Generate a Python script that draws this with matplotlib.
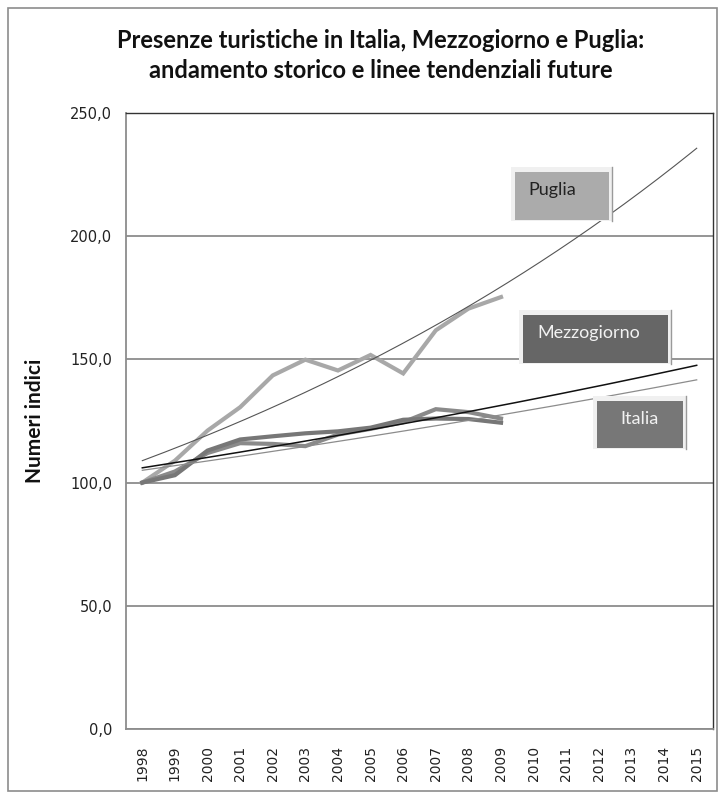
import numpy as np
import matplotlib
matplotlib.use("Agg")
import matplotlib.pyplot as plt
from matplotlib.patches import Rectangle

# ---- data ----
years = [str(y) for y in range(1998, 2016)]
hist_years = list(range(1998, 2010))

puglia = [100.0, 108.9, 121.1, 130.6, 143.5, 149.9, 145.5, 151.8, 144.3, 161.8, 170.6, 175.3]
italia = [100.0, 104.5, 112.0, 116.0, 115.7, 114.8, 119.5, 121.8, 124.5, 129.8, 128.6, 126.0]
mezzogiorno = [100.0, 103.0, 113.0, 117.5, 118.8, 120.0, 120.8, 122.3, 125.5, 126.0, 125.8, 124.3]

# exponential trend lines: value at 1998 and at 2015
trend_names = ["Puglia", "Mezzogiorno", "Italia"]
trend_1998 = [108.9, 106.0, 105.0]
trend_2015 = [235.7, 147.6, 141.7]

y_ticks = [0, 50, 100, 150, 200, 250]

W, H = 722, 797
fig = plt.figure(figsize=(W / 100, H / 100), dpi=100)
fig.patch.set_facecolor("white")


def fx(px):
    return px / W


def fy(py):
    return 1 - py / H


# outer chart frame
fig.add_artist(Rectangle((fx(8), fy(791)), fx(709), (783) / H, transform=fig.transFigure,
                         fill=False, edgecolor="#8c8c8c", linewidth=1.2))

ax = fig.add_axes([fx(126), fy(729), fx(713 - 126), (729 - 113) / H])
ax.set_xlim(-0.5, len(years) - 0.5)
ax.set_ylim(0, 250)

# gridlines
ax.set_yticks(y_ticks)
ax.set_yticklabels([f"{v:.1f}".replace(".", ",") for v in y_ticks],
                   fontsize=10.5, color="#222222", family="DejaVu Sans")
ax.yaxis.grid(True, color="#8c8c8c", linewidth=1.3)
ax.set_axisbelow(True)
ax.tick_params(axis="y", length=0, pad=10)

ax.set_xticks(range(len(years)))
ax.set_xticklabels(years, rotation=90, fontsize=10, color="#222222", family="DejaVu Sans")
ax.tick_params(axis="x", length=0, pad=12)

for side in ("left", "bottom"):
    ax.spines[side].set_color("#8c8c8c")
    ax.spines[side].set_linewidth(1.3)
for side in ("top", "right"):
    ax.spines[side].set_color("#333333")
    ax.spines[side].set_linewidth(1.0)

xh = [y - 1998 for y in hist_years]
ax.plot(xh, puglia, color="#a8a8a8", linewidth=3.0, solid_joinstyle="miter", zorder=3)
ax.plot(xh, italia, color="#8a8a8a", linewidth=3.0, solid_joinstyle="miter", zorder=3)
ax.plot(xh, mezzogiorno, color="#777777", linewidth=3.0, solid_joinstyle="miter", zorder=3)

# trend lines, drawn over the series
trend_style = {"Puglia": ("#555555", 0.8), "Mezzogiorno": ("#111111", 1.1), "Italia": ("#8c8c8c", 0.9)}
t = np.linspace(0, len(years) - 1, 200)
for name, a, b in zip(trend_names, trend_1998, trend_2015):
    col, lw = trend_style[name]
    ax.plot(t, a * (b / a) ** (t / (len(years) - 1)), color=col, linewidth=lw, zorder=4)

ax.set_ylabel("Numeri indici", fontsize=15, fontweight="bold", family="Lato", color="#111111")
ax.yaxis.set_label_coords(fx(45 - 126) / fx(713 - 126), 0.5)

fig.text(fx(381), fy(41), "Presenze turistiche in Italia, Mezzogiorno e Puglia:",
         ha="center", va="center", fontsize=17, fontweight="bold", family="Lato", color="#111111")
fig.text(fx(381), fy(70), "andamento storico e linee tendenziali future",
         ha="center", va="center", fontsize=17, fontweight="bold", family="Lato", color="#111111")


# series label boxes
def label_box(x0, y0, x1, y1, fill, text, tcolor, tx):
    fig.add_artist(Rectangle((fx(x0 - 4), fy(y1 + 1)), fx(x1 - x0 + 8), (y1 - y0 + 6) / H,
                             transform=fig.transFigure, facecolor="#f0f0f0", edgecolor="none", zorder=5))
    fig.add_artist(Rectangle((fx(x0), fy(y1)), fx(x1 - x0), (y1 - y0) / H,
                             transform=fig.transFigure, facecolor=fill, edgecolor="none", zorder=6))
    fig.add_artist(plt.Line2D([fx(x1 + 3), fx(x1 + 3)], [fy(y1 + 1), fy(y0 - 5)],
                              transform=fig.transFigure, color="#9a9a9a", linewidth=1.0, zorder=6))
    fig.text(fx(tx), fy((y0 + y1) / 2 - 6), text, ha="left", va="center", fontsize=13,
             family="Lato", color=tcolor, zorder=7)


label_box(515, 172, 609, 220, "#ababab", "Puglia", "#222222", 528)
label_box(523, 315, 668, 363, "#666666", "Mezzogiorno", "#f2f2f2", 537)
label_box(597, 401, 683, 448, "#777777", "Italia", "#f2f2f2", 620)

fig.savefig("out.png", dpi=100, facecolor="white")
